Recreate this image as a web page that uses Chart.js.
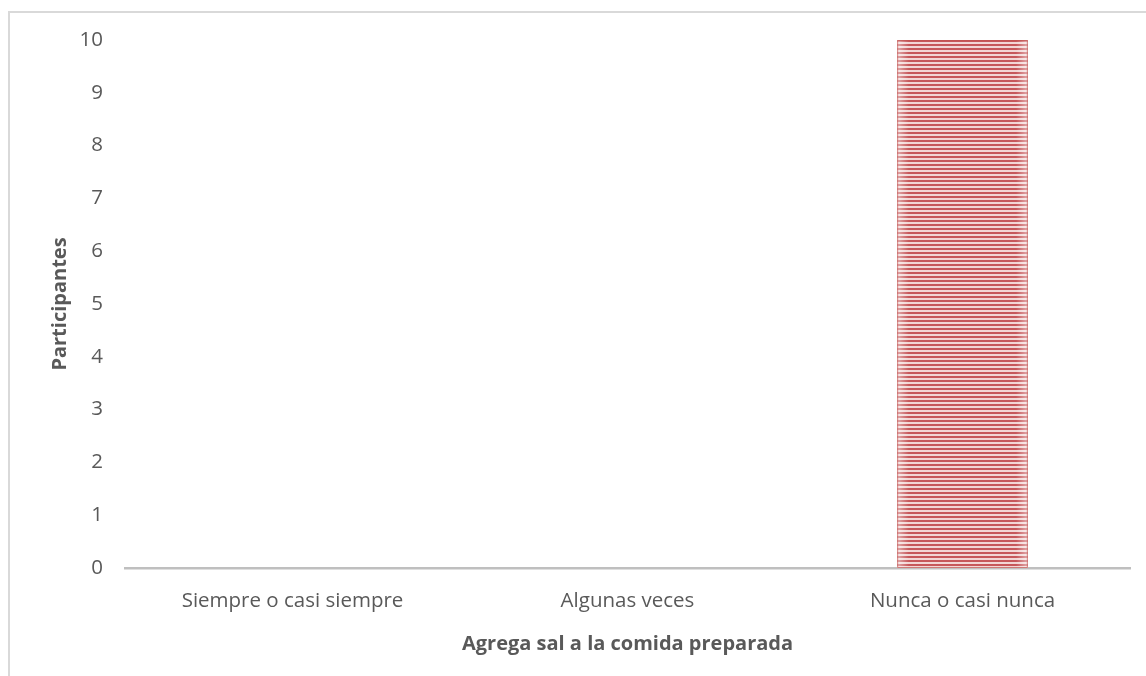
<!DOCTYPE html>
<html>
<head>
<meta charset="utf-8">
<script src="https://cdn.jsdelivr.net/npm/chart.js@4.4.1/dist/chart.umd.min.js"></script>
<style>
  html, body { margin: 0; padding: 0; background: #fff; overflow: hidden; }
  #marco { position: absolute; left: 8px; top: 11px; width: 1200px; height: 700px; border: 2px solid #d9d9d9; box-sizing: border-box; }
  #wrap { position: absolute; left: 0; top: 0; width: 1146px; height: 676px; }
</style>
</head>
<body>
<div id="marco"></div>
<div id="wrap"><canvas id="grafico"></canvas></div>
<script>
const categorias = ['Siempre o casi siempre', 'Algunas veces', 'Nunca o casi nunca'];
const participantes = [0, 0, 10];
const tituloX = 'Agrega sal a la comida preparada';
const tituloY = 'Participantes';

const TEXTO = '#595959';
const FUENTE = 'Open Sans';

// Trama de rayas horizontales para la barra
function trama() {
    const c = document.createElement('canvas');
    c.width = 4; c.height = 4;
    const g = c.getContext('2d');
    g.fillStyle = '#f2d6d5';
    g.fillRect(0, 0, 4, 4);
    g.fillStyle = '#c6575a';
    g.fillRect(0, 0, 4, 2);
    return g.createPattern(c, 'repeat');
}

// Brillo suave en los bordes laterales de cada barra
const brillo = {
    id: 'brillo',
    afterDatasetsDraw(chart) {
        const ctx = chart.ctx;
        chart.getDatasetMeta(0).data.forEach(b => {
            const w = b.width, x0 = b.x - w / 2, top = b.y, h = b.base - b.y;
            if (h <= 0) return;
            const gr = ctx.createLinearGradient(x0, 0, x0 + w, 0);
            gr.addColorStop(0, 'rgba(255,255,255,0.5)');
            gr.addColorStop(0.09, 'rgba(255,255,255,0)');
            gr.addColorStop(0.91, 'rgba(255,255,255,0)');
            gr.addColorStop(1, 'rgba(255,255,255,0.5)');
            ctx.save();
            ctx.fillStyle = gr;
            ctx.fillRect(x0, top, w, h);
            ctx.strokeStyle = 'rgba(192,80,77,0.7)';
            ctx.lineWidth = 1;
            ctx.strokeRect(x0 + 0.5, top + 0.5, w - 1, h - 1);
            ctx.restore();
        });
    }
};

new Chart(document.getElementById('grafico'), {
    type: 'bar',
    data: {
        labels: categorias,
        datasets: [{
            data: participantes,
            backgroundColor: trama(),
            borderWidth: 0,
            barPercentage: 0.39,
            categoryPercentage: 1
        }]
    },
    options: {
        responsive: true,
        maintainAspectRatio: false,
        animation: false,
        layout: { padding: { left: 48, top: 40, right: 16, bottom: 20 } },
        plugins: { legend: { display: false }, tooltip: { enabled: false } },
        scales: {
            x: {
                afterFit: s => { s.height = 88; },
                grid: { display: false, drawTicks: false },
                border: { color: '#bfbfbf', width: 2.5 },
                ticks: { color: TEXTO, font: { family: FUENTE, size: 20.5 }, padding: 21, maxRotation: 0 },
                title: { display: true, text: tituloX, color: TEXTO, font: { family: FUENTE, size: 20, weight: 'bold' }, padding: 0 }
            },
            y: {
                min: 0, max: 10,
                afterFit: s => { s.width = 77; },
                grid: { display: false, drawTicks: false },
                border: { display: false },
                ticks: { stepSize: 1, color: TEXTO, font: { family: FUENTE, size: 20.5 }, padding: 22 },
                title: { display: true, text: tituloY, color: TEXTO, font: { family: FUENTE, size: 20, weight: 'bold' }, padding: 0 }
            }
        }
    },
    plugins: [brillo]
});
</script>
</body>
</html>
